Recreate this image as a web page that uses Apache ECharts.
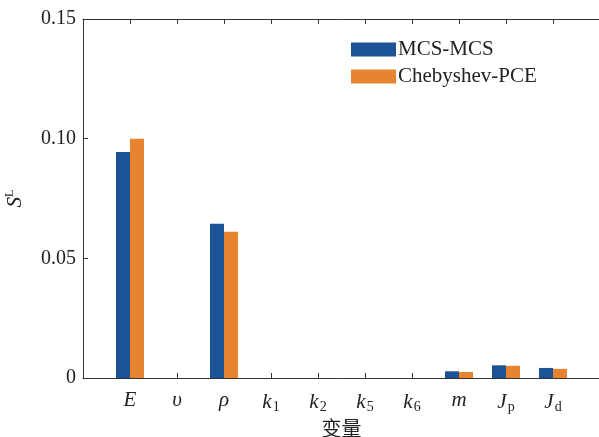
<!DOCTYPE html>
<html>
<head>
<meta charset="utf-8">
<script src="https://cdn.jsdelivr.net/npm/echarts@6/dist/echarts.min.js"></script>
<style>
  html, body { margin:0; padding:0; background:#fff; }
  #chart { width:599px; height:437px; }
</style>
</head>
<body>
<div id="chart"></div>
<script>
// variables along the x axis: [main symbol, subscript]
const variables = [['E',''], ['υ',''], ['ρ',''], ['k','1'], ['k','2'], ['k','5'], ['k','6'], ['m',''], ['J','p'], ['J','d']]
const mcsValues = [0.0944, 0, 0.0644, 0, 0, 0, 0, 0.0028, 0.0053, 0.0042]
const pceValues = [0.1000, 0, 0.0611, 0, 0, 0, 0, 0.0025, 0.0051, 0.0038]
const seriesNames = ['MCS-MCS', 'Chebyshev-PCE']

const SERIF = '"Liberation Serif", "Times New Roman", serif'
const AXIS_COLOR = '#333'
const TEXT = '#222'

// pad one empty slot at each end so the frame spans 0..11
const cats = ['', ...variables.map((v, i) => String(i)), '']
const pad = arr => [null, ...arr, null]

function labelFor(value){
  if(value === '') return ''
  const [main, sub] = variables[Number(value)]
  return sub ? `{i|${main}}{s|${sub}}` : `{i|${main}}`
}

const chart = echarts.init(document.getElementById('chart'), null, { renderer: 'canvas' })
chart.setOption({
  animation: false,
  backgroundColor: '#fff',
  grid: { left: 83, top: 19, width: 517, height: 359, containLabel: false, outerBoundsMode: 'none' },
  legend: {
    orient: 'vertical',
    left: 351,
    top: 39,
    padding: 0,
    itemWidth: 45,
    itemHeight: 14,
    itemGap: 6,
    icon: 'rect',
    textStyle: { fontFamily: SERIF, fontSize: 21, color: TEXT, padding: [0, 0, 0, -3] },
    data: seriesNames,
  },
  xAxis: [{
    type: 'category',
    data: cats,
    boundaryGap: false,
    name: '变量',
    nameLocation: 'middle',
    nameGap: 38,
    nameTextStyle: { fontFamily: '"Noto Sans CJK SC", sans-serif', fontSize: 20, color: TEXT },
    axisLine: { lineStyle: { color: AXIS_COLOR, width: 1 } },
    axisTick: { inside: true, length: 5, alignWithLabel: true, lineStyle: { color: AXIS_COLOR } },
    axisLabel: {
      interval: 0,
      margin: 12,
      formatter: labelFor,
      rich: {
        i: { fontFamily: SERIF, fontStyle: 'italic', fontSize: 21, color: TEXT },
        s: { fontFamily: SERIF, fontSize: 14, color: TEXT, padding: [10, 0, 0, 1] },
      },
    },
    splitLine: { show: false },
  }, {
    type: 'category',
    data: cats,
    boundaryGap: false,
    position: 'top',
    axisLine: { lineStyle: { color: AXIS_COLOR, width: 1 } },
    axisTick: { inside: true, length: 5, lineStyle: { color: AXIS_COLOR } },
    axisLabel: { show: false },
    splitLine: { show: false },
  }],
  yAxis: {
    type: 'value',
    min: 0,
    max: 0.15,
    interval: 0.05,
    name: '{i|S}{u|L}',
    nameLocation: 'middle',
    nameRotate: 90,
    nameGap: 57,
    nameTextStyle: {
      rich: {
        i: { fontFamily: SERIF, fontStyle: 'italic', fontSize: 21, color: TEXT },
        u: { fontFamily: SERIF, fontSize: 12, color: TEXT, padding: [0, 0, 10, 0] },
      },
    },
    axisLine: { show: true, lineStyle: { color: AXIS_COLOR, width: 1 } },
    axisTick: { show: true, inside: true, length: 5, lineStyle: { color: AXIS_COLOR } },
    axisLabel: {
      margin: 7,
      fontFamily: SERIF,
      fontSize: 20,
      color: TEXT,
      formatter: v => (v === 0 ? '0' : v.toFixed(2)),
    },
    splitLine: { show: false },
  },
  series: [
    {
      name: seriesNames[0],
      type: 'bar',
      data: pad(mcsValues),
      barWidth: 14,
      barGap: '0%',
      itemStyle: { color: '#1b5394' },
    },
    {
      name: seriesNames[1],
      type: 'bar',
      data: pad(pceValues),
      barWidth: 14,
      barGap: '0%',
      itemStyle: { color: '#e8832f' },
    },
  ],
})
</script>
</body>
</html>
